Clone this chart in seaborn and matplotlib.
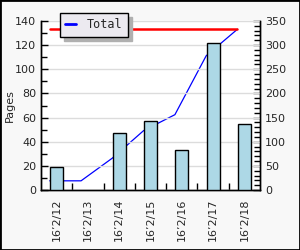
import matplotlib
matplotlib.use("Agg")
import matplotlib.pyplot as plt
import seaborn as sns
import numpy as np
import pandas as pd
from matplotlib.ticker import MultipleLocator, FixedLocator
from matplotlib.patches import Rectangle

categories = ["16’2/12", "16’2/13", "16’2/14", "16’2/15", "16’2/16", "16’2/17", "16’2/18"]
pages = [19, 0, 47, 57, 33, 122, 55]
totals = [19, 19, 66, 123, 156, 278, 333]

sns.set_theme(style="white")
plt.rcParams['font.family'] = ['DejaVu Sans']

fig = plt.figure(figsize=(3.0, 2.5), dpi=100, facecolor="#f8f8f8")
ax = fig.add_axes([41/300, 60/250, 219/300, 169/250])
ax2 = ax.twinx()

df = pd.DataFrame({"day": categories, "pages": pages})
sns.barplot(data=df, x="day", y="pages", ax=ax, color="#add8e6", saturation=1,
            edgecolor="black", linewidth=1.0, width=0.42, zorder=3)
for p in ax.patches:
    if p.get_height() == 0:
        p.set_visible(False)

xs = np.arange(len(categories)) - 0.22
sns.lineplot(x=xs, y=totals, ax=ax2, color="blue", linewidth=0.9, zorder=2,
             label="Total", legend=False)
ax2.plot([xs[0], xs[-1]], [max(totals), max(totals)], color="red", linewidth=1.8, zorder=2)

ax.set_zorder(ax2.get_zorder() + 1)
ax.patch.set_visible(False)
ax2.patch.set_facecolor("white")
ax2.patch.set_visible(True)

ax.set_xlim(-0.5, 6.5)
ax2.set_xlim(-0.5, 6.5)
ax.set_ylim(0, 140)
ax2.set_ylim(0, 350)

ax.yaxis.set_major_locator(MultipleLocator(20))
ax.yaxis.set_minor_locator(MultipleLocator(10))
ax2.yaxis.set_major_locator(MultipleLocator(50))
ax2.yaxis.set_minor_locator(MultipleLocator(10))
ax.xaxis.set_minor_locator(FixedLocator(np.arange(len(categories) - 1) + 0.5))

ax.set_xticks(range(len(categories)))
ax.set_xticklabels(categories, rotation=90, fontsize=8)
ax.tick_params(axis="x", which="major", length=0, pad=6)
ax.tick_params(axis="x", which="minor", direction="in", length=5, width=1, color="black", bottom=True)
ax.tick_params(axis="y", which="major", direction="in", length=5, width=1, color="black", labelsize=8, left=True)
ax.tick_params(axis="y", which="minor", direction="in", length=4, width=1, color="black", left=True)
ax2.tick_params(axis="y", which="major", direction="in", length=5, width=1, color="black", labelsize=8, right=True)
ax2.tick_params(axis="y", which="minor", direction="in", length=4, width=1, color="black", right=True)

ax.grid(axis="y", which="major", color="#dcdcdc", linewidth=1, zorder=0)
ax.set_axisbelow(True)
ax.set_xlabel("")
ax.set_ylabel("Pages", fontsize=8, labelpad=0)
ax2.set_ylabel("")

for a in (ax, ax2):
    for side in ("left", "bottom", "right"):
        a.spines[side].set_visible(True)
        a.spines[side].set_color("black")
        a.spines[side].set_linewidth(1)
    a.spines["top"].set_visible(False)

h, l = ax2.get_legend_handles_labels()
leg = fig.legend(h[:1], l[:1], loc="upper left", bbox_to_anchor=(60/300, 1 - 13/250),
                 fontsize=8.5, frameon=True, fancybox=False,
                 shadow={"color": "#b0b0b0", "alpha": 1, "ox": 3, "oy": -3},
                 handlelength=0.9, borderpad=0.45, handletextpad=0.9, borderaxespad=0)
leg.get_frame().set_facecolor("#eceaf0")
leg.get_frame().set_edgecolor("black")
leg.get_frame().set_linewidth(1)
for t in leg.get_texts():
    t.set_family("DejaVu Sans Mono")
for ln in leg.get_lines():
    ln.set_linewidth(2)

fig.patches.append(Rectangle((0, 0), 1, 1, transform=fig.transFigure, fill=False,
                             edgecolor="black", linewidth=2))

fig.savefig("out.png", dpi=100, facecolor=fig.get_facecolor())
